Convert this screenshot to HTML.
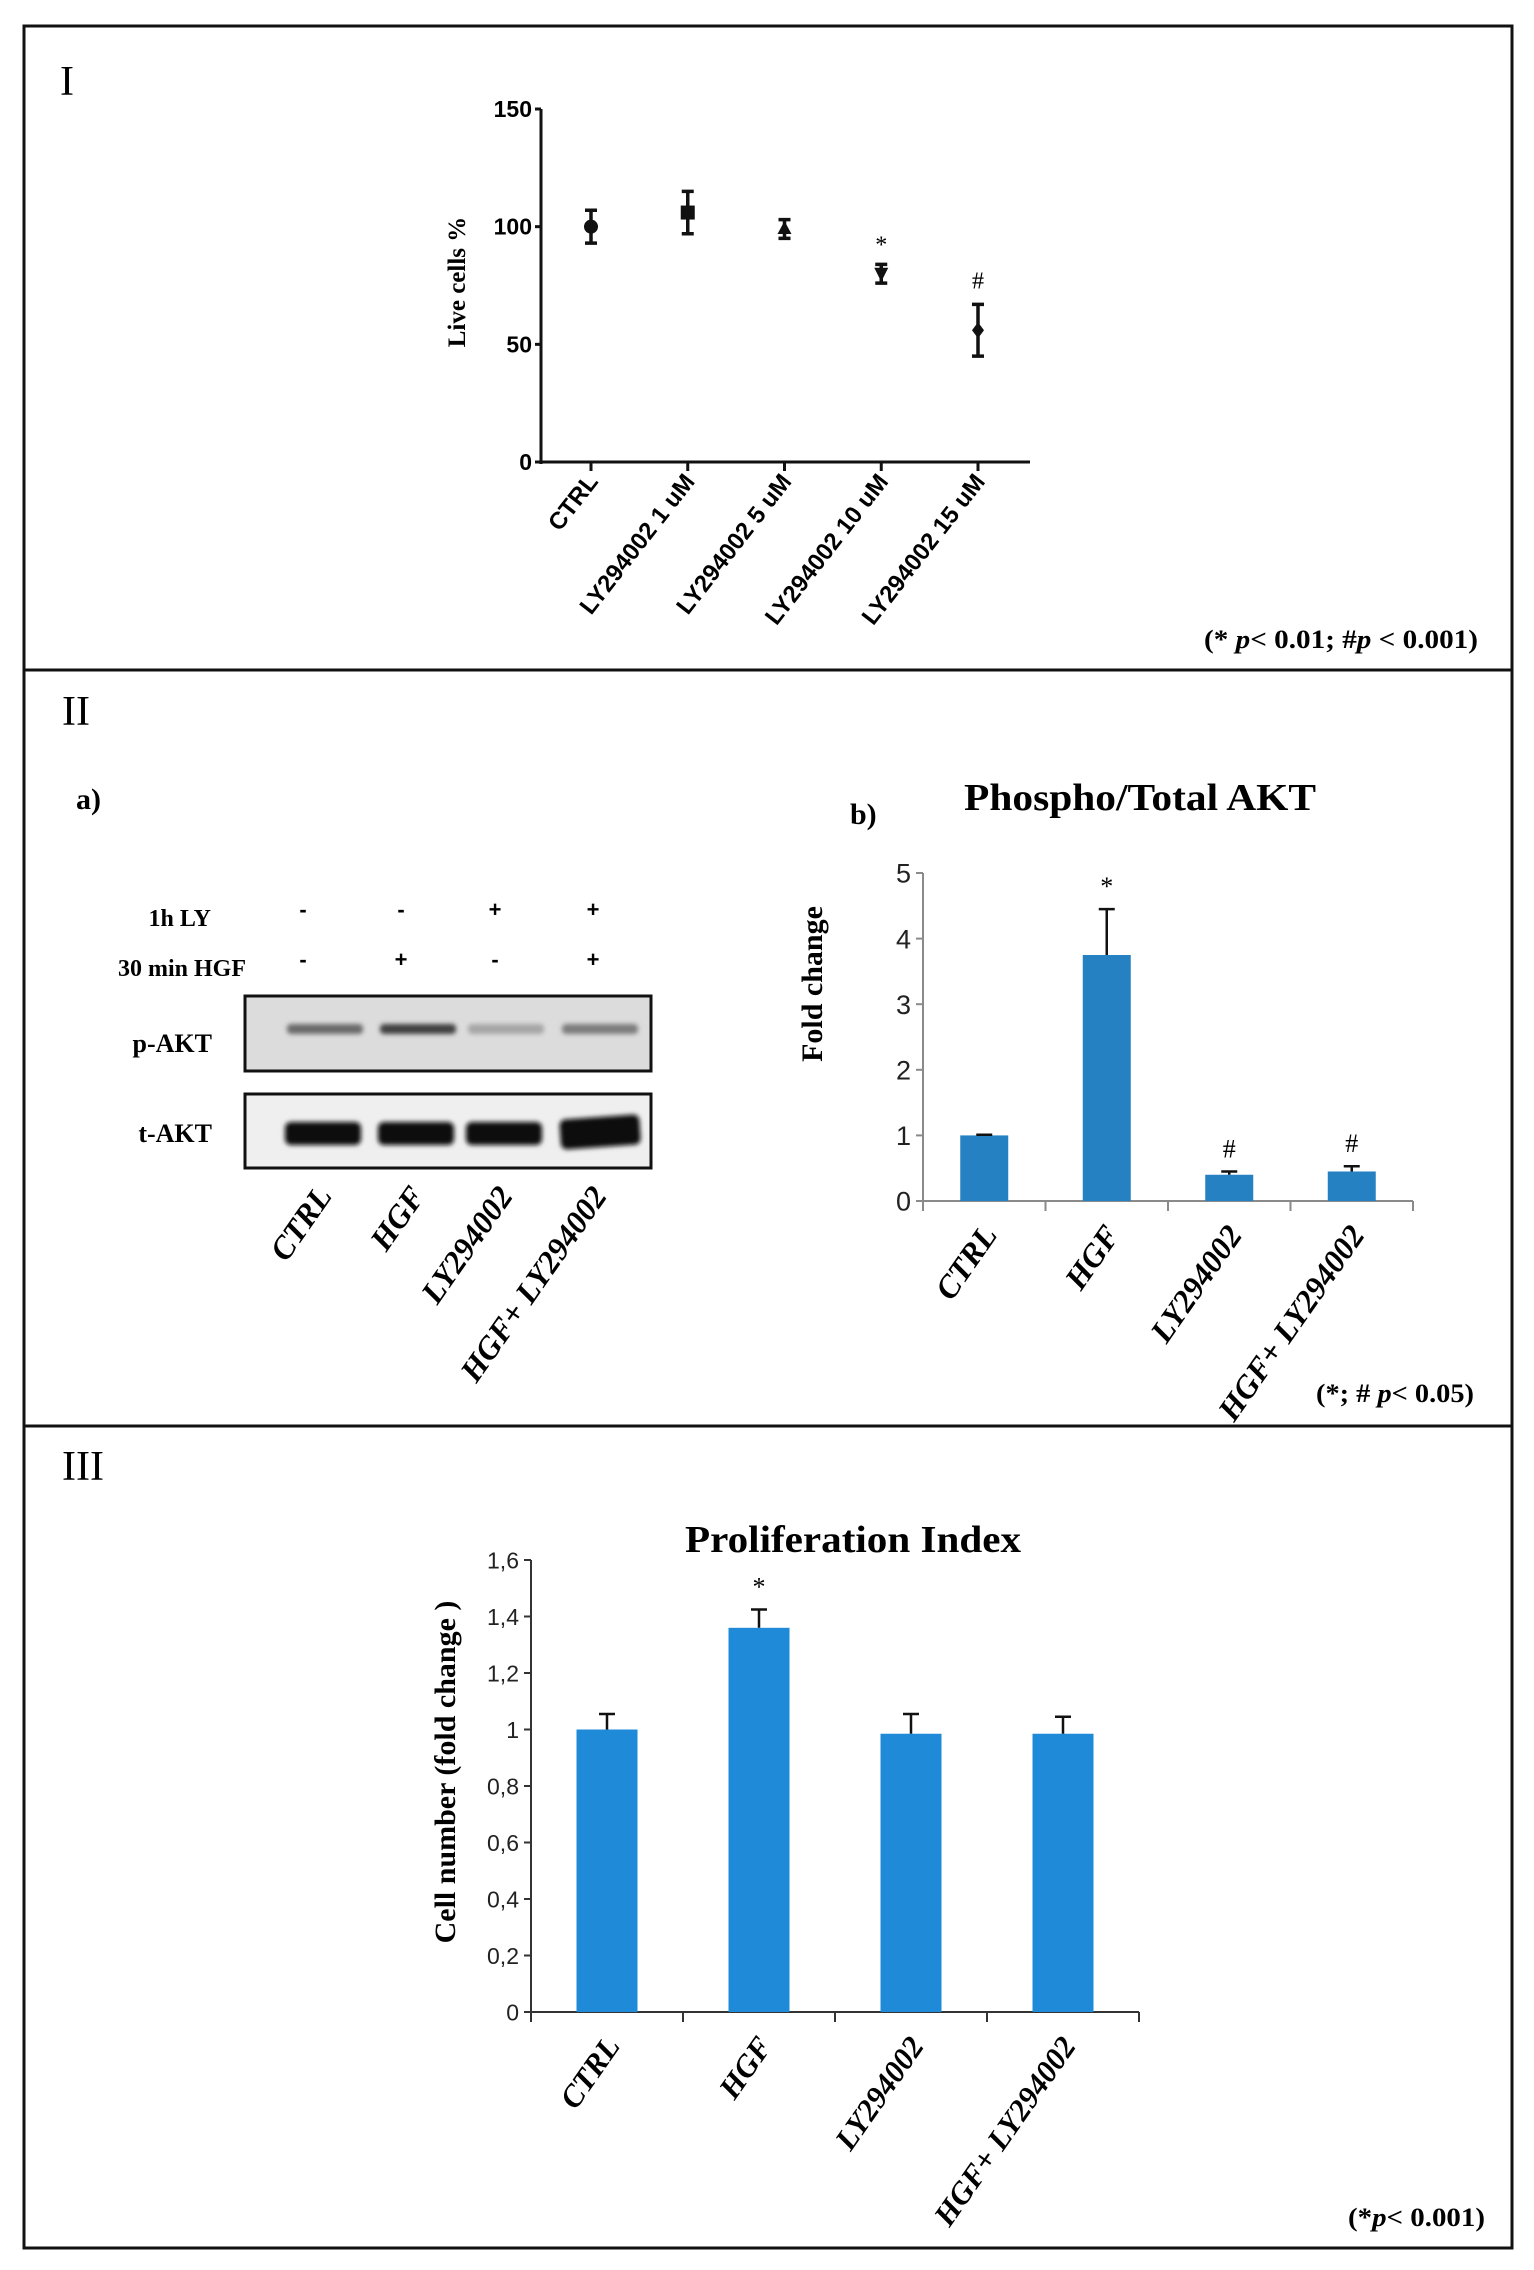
<!DOCTYPE html>
<html><head><meta charset="utf-8"><style>
html,body{margin:0;padding:0;background:#fff;}
svg{display:block;}
.serif{font-family:"Liberation Serif",serif;}
.sans{font-family:"Liberation Sans",sans-serif;}
</style></head><body>
<svg id="fig" width="1534" height="2270" viewBox="0 0 1534 2270" xmlns="http://www.w3.org/2000/svg">
<defs><filter id="blur" x="-20%" y="-50%" width="140%" height="200%"><feGaussianBlur stdDeviation="2.5"/></filter></defs>
<rect x="24" y="26" width="1488" height="2222" fill="none" stroke="#111" stroke-width="3"/>
<line x1="24" y1="670" x2="1512" y2="670" stroke="#111" stroke-width="3"/>
<line x1="24" y1="1426" x2="1512" y2="1426" stroke="#111" stroke-width="3"/>
<text x="60" y="95" class="serif" font-size="42">I</text>
<text x="62" y="725" class="serif" font-size="42">II</text>
<text x="62" y="1480" class="serif" font-size="42">III</text>
<text x="1478" y="648" text-anchor="end" textLength="274" lengthAdjust="spacingAndGlyphs" class="serif" font-size="26" font-weight="bold">(* <tspan font-style="italic">p</tspan>&lt; 0.01;  #<tspan font-style="italic">p</tspan> &lt; 0.001)</text>
<text x="1474" y="1402" text-anchor="end" textLength="158" lengthAdjust="spacingAndGlyphs" class="serif" font-size="26" font-weight="bold">(*; # <tspan font-style="italic">p</tspan>&lt; 0.05)</text>
<text x="1485" y="2226" text-anchor="end" textLength="137" lengthAdjust="spacingAndGlyphs" class="serif" font-size="26" font-weight="bold">(*<tspan font-style="italic">p</tspan>&lt; 0.001)</text>

<!-- Western blot -->
<text x="76" y="809" class="serif" font-size="30" font-weight="bold">a)</text>
<text x="850" y="824" class="serif" font-size="30" font-weight="bold">b)</text>
<text x="211" y="926" text-anchor="end" class="serif" font-size="24" font-weight="bold">1h LY</text>
<text x="246" y="976" text-anchor="end" class="serif" font-size="24" font-weight="bold">30 min HGF</text>
<g id="signs" class="sans" font-size="22" font-weight="bold" text-anchor="middle"></g>
<rect x="245" y="996" width="406" height="75" fill="#dcdcdc" stroke="#111" stroke-width="3"/>
<rect x="245" y="1094" width="406" height="74" fill="#efefef" stroke="#111" stroke-width="3"/>
<text x="212" y="1052" text-anchor="end" class="serif" font-size="26" font-weight="bold">p-AKT</text>
<text x="212" y="1142" text-anchor="end" class="serif" font-size="26" font-weight="bold">t-AKT</text>
<g id="bands" filter="url(#blur)"></g>
<g id="blotlabels" class="serif" font-size="32" font-weight="bold" font-style="italic"></g>

<g id="chart1"></g>
<g id="chart2"></g>
<g id="chart3"></g>
</svg>
<script>
const NS='http://www.w3.org/2000/svg';
function mk(parent,tag,attrs,txt){const e=document.createElementNS(NS,tag);for(const k in attrs)e.setAttribute(k,attrs[k]);if(txt!==undefined)e.textContent=txt;parent.appendChild(e);return e;}

// ---- Chart I data ----
const c1Cats=['CTRL','LY294002 1 uM','LY294002 5 uM','LY294002 10 uM','LY294002 15 uM'];
const c1Vals=[100,106,99,80,56];
const c1Err=[7,9,4,4,11];
const c1Marks=['','','','*','#'];
const c1Ticks=[0,50,100,150];

// ---- Chart II data ----
const c2Cats=['CTRL','HGF','LY294002','HGF+ LY294002'];
const c2Vals=[1.0,3.75,0.4,0.45];
const c2Err=[0.01,0.7,0.05,0.08];
const c2Marks=['','*','#','#'];
const c2Ticks=[0,1,2,3,4,5];

// ---- Chart III data ----
const c3Cats=['CTRL','HGF','LY294002','HGF+ LY294002'];
const c3Vals=[1.0,1.36,0.985,0.985];
const c3Err=[0.055,0.065,0.07,0.06];
const c3Marks=['','*','',''];
const c3Ticks=['0','0,2','0,4','0,6','0,8','1','1,2','1,4','1,6'];

// ---- Blot data ----
const lyRow=['-','-','+','+'];
const hgfRow=['-','+','-','+'];
const pBand=[0.55,0.8,0.2,0.45];
const tBand=[1,1,1,1];

// Chart I
(function(){
 const g=document.getElementById('chart1');
 const x0=541,x1=1030,yb=462,yt=109,max=150;
 const y=v=>yb-(v/max)*(yb-yt);
 const xs=[591,687,785,881,978];
 const x=i=>xs[0]+i*(xs[4]-xs[0])/(c1Cats.length-1);
 let e=mk(g,'line',{x1:x0,y1:yt,x2:x0,y2:yb+2,stroke:'#111','stroke-width':3});
 
 e=mk(g,'line',{x1:x0,y1:yb,x2:x1,y2:yb,stroke:'#111','stroke-width':3});
 
 c1Ticks.forEach(t=>{
  mk(g,'line',{x1:x0-6,y1:y(t),x2:x0,y2:y(t),stroke:'#111','stroke-width':3});
  const tl=mk(g,'text',{x:x0-9,y:y(t)+8,'text-anchor':'end','font-size':23,'font-weight':'bold','class':'sans'},String(t));
  
 });
 const yl=mk(g,'text',{x:0,y:0,transform:'translate(465,282) rotate(-90)','text-anchor':'middle','font-size':25,'font-weight':'bold','class':'serif'},'Live cells %');
 
 c1Cats.forEach((c,i)=>{
  const cx=x(i),cy=y(c1Vals[i]);
  mk(g,'line',{x1:cx,y1:yb,x2:cx,y2:yb+9,stroke:'#111','stroke-width':3});
  const eb=mk(g,'path',{d:`M${cx},${y(c1Vals[i]+c1Err[i])}V${y(c1Vals[i]-c1Err[i])}M${cx-6},${y(c1Vals[i]+c1Err[i])}H${cx+6}M${cx-6},${y(c1Vals[i]-c1Err[i])}H${cx+6}`,stroke:'#111','stroke-width':3.5,fill:'none'});
  
  let m;
  if(i===0)m=mk(g,'circle',{cx:cx,cy:cy,r:7,fill:'#111'});
  else if(i===1)m=mk(g,'rect',{x:cx-7,y:cy-7,width:14,height:14,fill:'#111'});
  else if(i===2)m=mk(g,'path',{d:`M${cx},${cy-8}L${cx+7},${cy+5}L${cx-7},${cy+5}Z`,fill:'#111'});
  else if(i===3)m=mk(g,'path',{d:`M${cx-7},${cy-6}L${cx+7},${cy-6}L${cx},${cy+8}Z`,fill:'#111'});
  else m=mk(g,'path',{d:`M${cx},${cy-8}L${cx+6},${cy}L${cx},${cy+8}L${cx-6},${cy}Z`,fill:'#111'});
  
  if(c1Marks[i]){const s=mk(g,'text',{x:cx,y:y(c1Vals[i]+c1Err[i])-(i===3?12:16),'text-anchor':'middle','font-size':24,'class':'serif'},c1Marks[i]);}
  const lb=mk(g,'text',{x:0,y:0,transform:`translate(${cx+8},${yb+20}) rotate(-52)`,'text-anchor':'end','font-size':24,'font-weight':'bold','class':'sans'},c);
  
 });
})();

// Bar chart helper
function barChart(id,o){
 const g=document.getElementById(id);
 const y=v=>o.yb-(v/o.max)*(o.yb-o.yt);
 const n=o.cats.length,band=(o.x1-o.x0)/n;
 let e=mk(g,'line',{x1:o.x0,y1:o.yt,x2:o.x0,y2:o.yb+8,stroke:o.axis,'stroke-width':2});
 
 e=mk(g,'line',{x1:o.x0,y1:o.yb,x2:o.x1,y2:o.yb,stroke:o.axis,'stroke-width':2});
 
 o.ticks.forEach((t,k)=>{
  const v=k*o.max/(o.ticks.length-1);
  mk(g,'line',{x1:o.x0-7,y1:y(v),x2:o.x0,y2:y(v),stroke:o.axis,'stroke-width':2});
  const tl=mk(g,'text',{x:o.x0-12,y:y(v)+o.tfs*0.36,'text-anchor':'end','font-size':o.tfs,'class':'sans',fill:'#222'},String(t));
  
 });
 for(let i=0;i<=n;i++)mk(g,'line',{x1:o.x0+i*band,y1:o.yb,x2:o.x0+i*band,y2:o.yb+10,stroke:o.axis,'stroke-width':2});
 o.cats.forEach((c,i)=>{
  const cx=o.x0+band*(i+0.5);
  const b=mk(g,'rect',{x:cx-o.bw/2,y:y(o.vals[i]),width:o.bw,height:o.yb-y(o.vals[i]),fill:o.color});
  
  const top=y(o.vals[i]+o.err[i]);
  const eb=mk(g,'path',{d:`M${cx},${y(o.vals[i])}V${top}M${cx-8},${top}H${cx+8}`,stroke:'#111','stroke-width':2.5,fill:'none'});
  
  if(o.marks[i]){const s=mk(g,'text',{x:cx,y:top-14,'text-anchor':'middle','font-size':26,'class':'serif'},o.marks[i]);}
  const lb=mk(g,'text',{x:0,y:0,transform:`translate(${cx+14},${o.yb+34}) rotate(-55)`,'text-anchor':'end','font-size':o.lfs,'font-weight':'bold','font-style':'italic','class':'serif'},c);
  
 });
 const yl=mk(g,'text',{x:0,y:0,transform:`translate(${o.ytx},${o.yty}) rotate(-90)`,'text-anchor':'middle','font-size':o.ytfs,'font-weight':'bold','class':'serif'},o.ytitle);
 
 const t=mk(g,'text',{x:o.tx,y:o.ty,'text-anchor':'middle','font-size':38,'font-weight':'bold','class':'serif',textLength:o.tl,lengthAdjust:'spacingAndGlyphs'},o.title);
 
}
barChart('chart2',{cats:c2Cats,vals:c2Vals,err:c2Err,marks:c2Marks,ticks:c2Ticks,max:5,x0:923,x1:1413,yt:873,yb:1201,bw:48,color:'#2681c2',axis:'#8a8a8a',tfs:27,lfs:32,ytitle:'Fold change',ytx:822,yty:984,ytfs:30,title:'Phospho/Total AKT',tx:1140,ty:810,tl:352});
barChart('chart3',{cats:c3Cats,vals:c3Vals,err:c3Err,marks:c3Marks,ticks:c3Ticks,max:1.6,x0:531,x1:1139,yt:1560,yb:2012,bw:61,color:'#1f8bd8',axis:'#333',tfs:23,lfs:31,ytitle:'Cell number  (fold  change )',ytx:455,yty:1772,ytfs:30,title:'Proliferation  Index',tx:853,ty:1552,tl:336});

// Blot
(function(){
 const s=document.getElementById('signs'),bd=document.getElementById('bands'),bl=document.getElementById('blotlabels');
 const lx=[303,401,495,593];
 const names=['CTRL','HGF','LY294002','HGF+ LY294002'];
 lyRow.forEach((v,i)=>{const t=mk(s,'text',{x:lx[i],y:917},v);});
 hgfRow.forEach((v,i)=>{const t=mk(s,'text',{x:lx[i],y:967},v);});
 const bx=[325,418,506,600];
 pBand.forEach((v,i)=>{const g=Math.round(200-v*170);const r=mk(bd,'rect',{x:bx[i]-38,y:1024,width:76,height:10,rx:4,fill:`rgb(${g},${g},${g})`});});
 tBand.forEach((v,i)=>{const h=i===3?30:23;const r=mk(bd,'rect',{x:bx[i]-40,y:1145-h+(i===3?2:0),width:i===3?80:76,height:h,rx:6,fill:'#0a0a0a',transform:i===3?`rotate(-4 ${bx[i]} 1130)`:''});});
 names.forEach((n,i)=>{const t=mk(bl,'text',{x:0,y:0,transform:`translate(${bx[i]+8},${1196}) rotate(-55)`,'text-anchor':'end'},n);});
})();
</script>
</body></html>
